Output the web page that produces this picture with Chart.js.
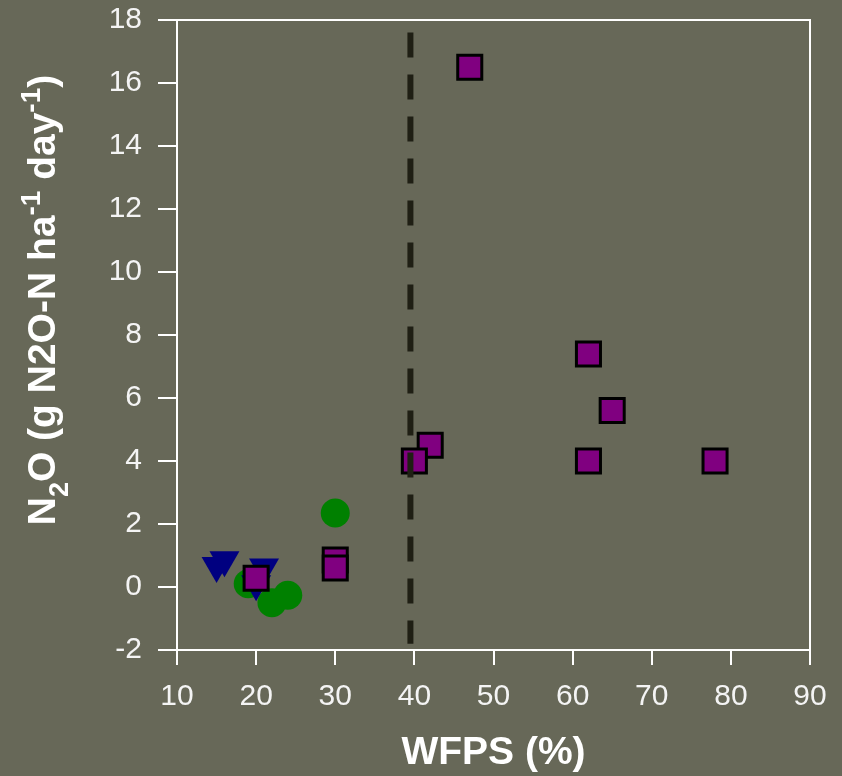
<!DOCTYPE html>
<html>
<head>
<meta charset="utf-8">
<script src="https://cdn.jsdelivr.net/npm/chart.js@4/dist/chart.umd.min.js"></script>
<style>
  html, body { margin: 0; padding: 0; background: #676858; }
  canvas { display: block; }
</style>
</head>
<body>
<canvas id="c" width="842" height="776"></canvas>
<script>
// data: x = WFPS (%), y = N2O flux
var squaresX = [47, 42, 40, 62, 65, 62, 78, 30, 30, 20];
var squaresY = [16.5, 4.5, 4.0, 7.4, 5.6, 4.0, 4.0, 0.86, 0.6, 0.28];
var trianglesX = [15, 16, 21, 20];
var trianglesY = [0.68, 0.86, 0.63, 0.1];
var circlesX = [30, 19, 22, 24];
var circlesY = [2.35, 0.1, -0.5, -0.26];
// vertical threshold line
var thresholdX = [39.5, 39.5];
var thresholdY = [17.6, -1.8];

var xTicks = [10, 20, 30, 40, 50, 60, 70, 80, 90];
var yTicks = [-2, 0, 2, 4, 6, 8, 10, 12, 14, 16, 18];

var FONT = "'Liberation Sans', Arial, sans-serif";

function pts(xs, ys) {
    return xs.map(function (x, i) { return {x: x, y: ys[i]}; });
}

// draws the white box round the plot and both axis titles
var frame = {
    id: 'frame',
    afterDraw: function (chart) {
        var ctx = chart.ctx, a = chart.chartArea;
        ctx.save();
        ctx.strokeStyle = '#ffffff';
        ctx.lineWidth = 2;
        ctx.strokeRect(a.left, a.top, a.right - a.left, a.bottom - a.top);

        ctx.fillStyle = '#ffffff';
        ctx.textBaseline = 'alphabetic';
        ctx.font = 'bold 39px ' + FONT;
        ctx.textAlign = 'center';
        ctx.fillText('WFPS (%)', (a.left + a.right) / 2, 764);

        // rotated y title with sub/superscripts
        var parts = [
            ['N', 39, 0], ['2', 27, 13], ['O (g N2O-N ha', 39, 0],
            ['-1', 28, -15], [' day', 39, 0], ['-1', 28, -15], [')', 39, 0]
        ];
        var total = 0;
        parts.forEach(function (p) {
            ctx.font = 'bold ' + p[1] + 'px ' + FONT;
            total += ctx.measureText(p[0]).width;
        });
        ctx.translate(55, 300);
        ctx.rotate(-Math.PI / 2);
        ctx.textAlign = 'left';
        var x = -total / 2;
        parts.forEach(function (p) {
            ctx.font = 'bold ' + p[1] + 'px ' + FONT;
            ctx.fillText(p[0], x, p[2]);
            x += ctx.measureText(p[0]).width;
        });
        ctx.restore();
    }
};

new Chart(document.getElementById('c').getContext('2d'), {
    type: 'scatter',
    data: {
        datasets: [
            {
                label: 'threshold',
                data: pts(thresholdX, thresholdY),
                showLine: true,
                borderColor: '#1f1f14',
                borderWidth: 6,
                borderDash: [25, 17],
                pointRadius: 0
            },
            {
                label: 'squares',
                data: pts(squaresX, squaresY),
                pointStyle: 'rect',
                pointRadius: 17,
                backgroundColor: '#800080',
                borderColor: '#000000',
                borderWidth: 3
            },
            {
                label: 'triangles',
                data: pts(trianglesX, trianglesY),
                pointStyle: 'triangle',
                rotation: 180,
                pointRadius: 17.3,
                backgroundColor: '#000080',
                borderWidth: 0
            },
            {
                label: 'circles',
                data: pts(circlesX, circlesY),
                pointStyle: 'circle',
                pointRadius: 14.5,
                backgroundColor: '#008000',
                borderWidth: 0
            }
        ]
    },
    options: {
        responsive: false,
        animation: false,
        layout: {padding: {top: 18, right: 32, left: 0, bottom: 0}},
        plugins: {legend: {display: false}, tooltip: {enabled: false}},
        scales: {
            x: {
                min: 10, max: 90,
                afterBuildTicks: function (s) { s.ticks = xTicks.map(function (v) { return {value: v}; }); },
                afterFit: function (s) { s.height = 126; s.paddingLeft = 0; s.paddingRight = 0; },
                grid: {drawOnChartArea: false, color: '#ffffff', lineWidth: 2, tickLength: 15},
                border: {color: '#ffffff', width: 2},
                ticks: {color: '#f4f4f4', font: {family: FONT, size: 30}, padding: 14, maxRotation: 0}
            },
            y: {
                min: -2, max: 18,
                afterBuildTicks: function (s) { s.ticks = yTicks.map(function (v) { return {value: v}; }); },
                afterFit: function (s) { s.width = 177; s.paddingTop = 0; s.paddingBottom = 0; },
                grid: {drawOnChartArea: false, color: '#ffffff', lineWidth: 2, tickLength: 19},
                border: {color: '#ffffff', width: 2},
                ticks: {color: '#f4f4f4', font: {family: FONT, size: 30}, padding: 16}
            }
        }
    },
    plugins: [frame]
});
</script>
</body>
</html>
